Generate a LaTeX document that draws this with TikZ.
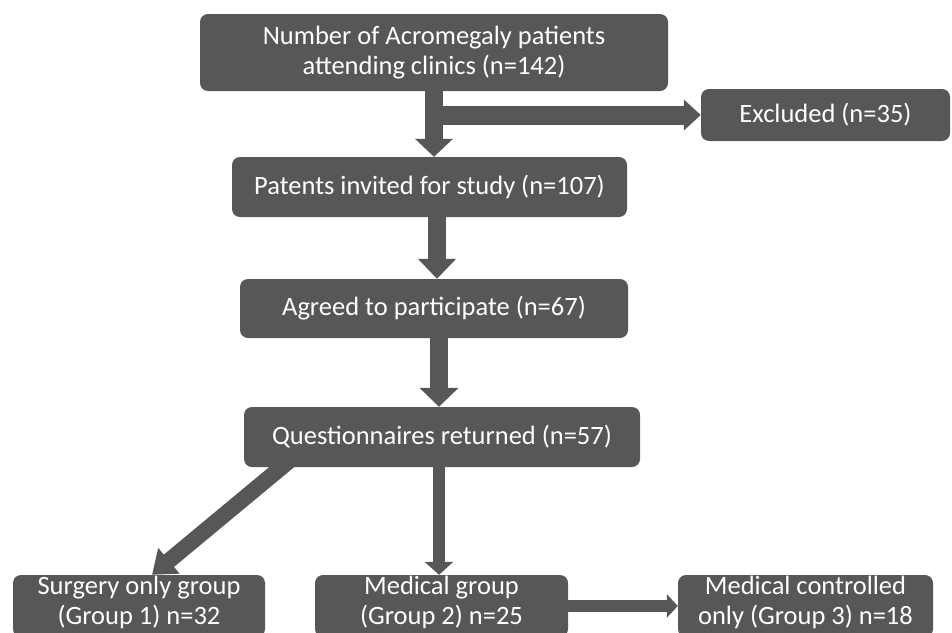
\documentclass[tikz,border=0pt]{standalone}
\usepackage{fontspec}
\setmainfont{Carlito}
\usetikzlibrary{arrows.meta}
\definecolor{boxgray}{RGB}{87,87,87}

\begin{document}
\begin{tikzpicture}[x=1pt, y=-1pt,
                every node/.append style={align=center, font=\fontsize{26.5}{30}\selectfont},
                flowbox/.style={fill=boxgray, text=white, rounded corners=8pt, inner sep=0pt},
                groupbox/.style={flowbox, minimum height=62pt, text depth=12pt},
                fat/.style args={#1/#2/#3}{draw=boxgray, line width=#1,
                    -{Triangle[width=#2, length=#3]}}]

\path[use as bounding box, clip] (0,0) rectangle (952,632);

\node[flowbox, minimum width=468pt, minimum height=77pt] (top) at (434,52.5)
    {Number of Acromegaly patients\\attending clinics (n=142)};
\node[flowbox, minimum width=249pt, minimum height=52pt] (excl) at (825.5,115) {Excluded (n=35)};
\node[flowbox, minimum width=395pt, minimum height=60pt] (invit) at (429.5,187) {Patents invited for study (n=107)};
\node[flowbox, minimum width=388pt, minimum height=59pt] (agree) at (434,308.5) {Agreed to participate (n=67)};
\node[flowbox, minimum width=396pt, minimum height=60pt] (quest) at (442,437) {Questionnaires returned (n=57)};
\node[groupbox, minimum width=252pt] (surg) at (139,606) {Surgery only group\\(Group 1) n=32};
\node[groupbox, minimum width=253pt] (med) at (441.5,606) {Medical group\\(Group 2) n=25};
\node[groupbox, minimum width=255pt] (ctrl) at (805.5,606) {Medical controlled\\only (Group 3) n=18};

% connectors
\draw[fat=18pt/37pt/18pt] (top.south) -- (top.south |- invit.north);
\draw[fat=19pt/30pt/17pt] (top.south |- excl.west) -- (excl.west);
\draw[fat=18pt/37pt/20pt] ([xshift=7.5pt]invit.south) -- ([xshift=3pt]agree.north);
\draw[fat=18pt/38pt/19pt] ([xshift=5pt]agree.south) -- ([xshift=-3pt]quest.north);
\draw[fat=16pt/32pt/22pt] ([xshift=45pt, yshift=6pt]quest.south west) -- ([xshift=13pt]surg.north);
\draw[fat=12pt/28pt/13pt] ([xshift=-3pt]quest.south) -- ([xshift=-2.5pt]med.north);
\draw[fat=12pt/23pt/11pt] (med.east) -- (ctrl.west);

\end{tikzpicture}
\end{document}
